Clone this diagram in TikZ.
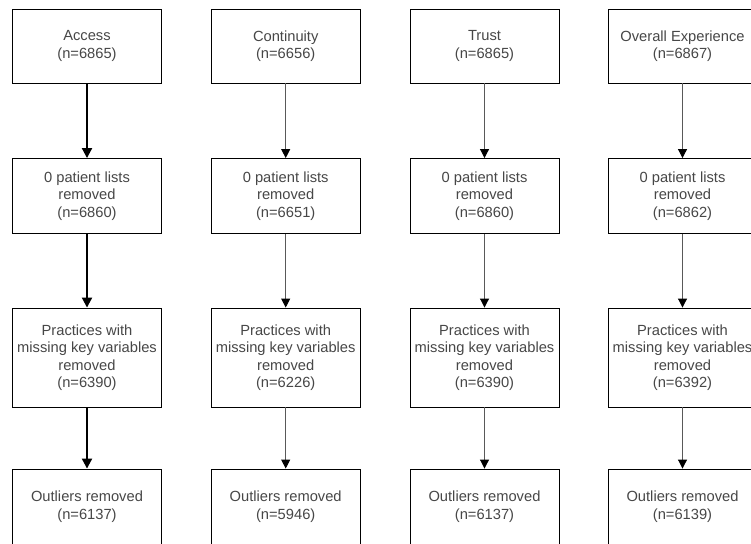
\documentclass[tikz,border=0pt]{standalone}
\usepackage{fontspec}
\setmainfont{Liberation Sans}
\usetikzlibrary{arrows.meta}
\begin{document}
\begin{tikzpicture}[x=1pt,y=-1pt,
  fbox/.style={draw=black, line width=0.9pt, fill=white, minimum width=149pt, inner sep=0pt,
    align=center, text=black!72, font=\fontsize{14.7}{17.5}\selectfont},
  r1/.style={fbox, minimum height=74pt},
  r2/.style={fbox, minimum height=75pt},
  r3/.style={fbox, minimum height=99pt},
  r4/.style={fbox, minimum height=75pt},
  thickarr/.style={draw=black, line width=2pt, -{Triangle[width=10pt,length=10pt]}},
  thinarr/.style={draw=black!65, line width=1pt, -{Triangle[width=9pt,length=9pt,color=black,fill=black]}}
]
\useasboundingbox (0,0) rectangle (751,543);
\clip (0,0) rectangle (751,543);
\fill[white] (0,0) rectangle (751,543);

% column centres: 87, 285.7, 484.5, 682.5
\node[r1] (a1) at (87,46) {Access\\(n=6865)};
\node[r2] (a2) at (87,196) {0 patient lists\\removed\\(n=6860)};
\node[r3] (a3) at (87,357.5) {Practices with\\missing key variables\\removed\\(n=6390)};
\node[r4] (a4) at (87,506.5) {Outliers removed\\(n=6137)};

\node[r1] (b1) at (285.7,46) {Continuity\\(n=6656)};
\node[r2] (b2) at (285.7,196) {0 patient lists\\removed\\(n=6651)};
\node[r3] (b3) at (285.7,357.5) {Practices with\\missing key variables\\removed\\(n=6226)};
\node[r4] (b4) at (285.7,506.5) {Outliers removed\\(n=5946)};

\node[r1] (c1) at (484.5,46) {Trust\\(n=6865)};
\node[r2] (c2) at (484.5,196) {0 patient lists\\removed\\(n=6860)};
\node[r3] (c3) at (484.5,357.5) {Practices with\\missing key variables\\removed\\(n=6390)};
\node[r4] (c4) at (484.5,506.5) {Outliers removed\\(n=6137)};

\node[r1] (d1) at (682.5,46) {Overall Experience\\(n=6867)};
\node[r2] (d2) at (682.5,196) {0 patient lists\\removed\\(n=6862)};
\node[r3] (d3) at (682.5,357.5) {Practices with\\missing key variables\\removed\\(n=6392)};
\node[r4] (d4) at (682.5,506.5) {Outliers removed\\(n=6139)};

\draw[thickarr] (a1) -- (a2);
\draw[thickarr] (a2) -- (a3);
\draw[thickarr] (a3) -- (a4);
\foreach \c in {b,c,d}{
  \draw[thinarr] (\c1) -- (\c2);
  \draw[thinarr] (\c2) -- (\c3);
  \draw[thinarr] (\c3) -- (\c4);
}
\end{tikzpicture}
\end{document}
